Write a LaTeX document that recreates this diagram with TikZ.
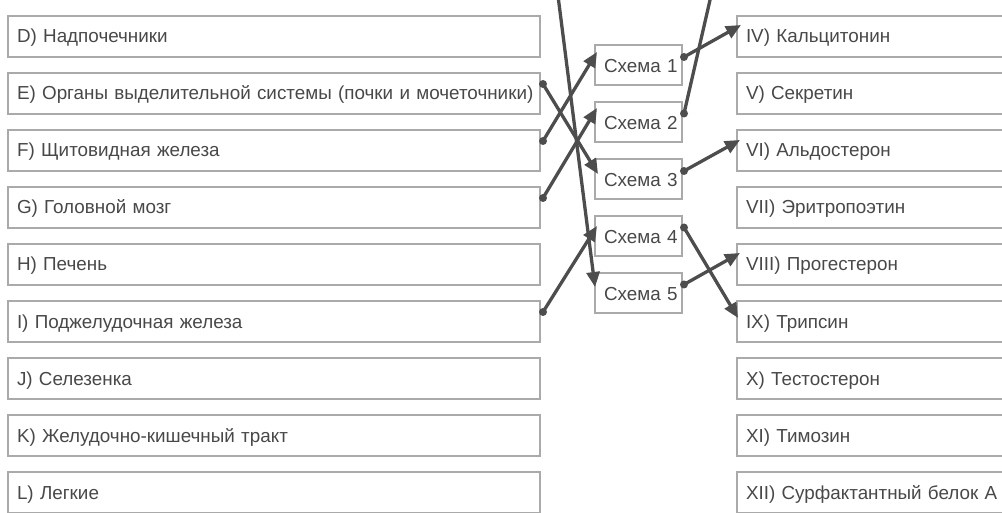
\documentclass[tikz,border=0pt]{standalone}
\usepackage{fontspec}
\setmainfont{Liberation Sans}
\usetikzlibrary{arrows.meta,calc}
\definecolor{txt}{HTML}{484848}
\definecolor{bord}{HTML}{AAAAAA}
\definecolor{conn}{HTML}{4D4D4D}
\newlength\refw
\begin{document}
\settowidth\refw{\fontsize{10pt}{12pt}\selectfont E) Органы выделительной системы (почки и мочеточники)}%
\pgfmathsetmacro\fsz{10*510/\refw}%
\begin{tikzpicture}[x=1pt,y=-1pt]
\tikzset{
  boxbase/.style={draw=bord, line width=2pt, rectangle, anchor=north west, inner xsep=9pt, inner ysep=0pt,
    align=left, text=txt, font=\fontsize{\fsz}{\fsz}\selectfont, text height=27pt, text depth=14pt},
  lbox/.style={boxbase, text width=514pt},
  rbox/.style={boxbase, text width=258pt},
  mbox/.style={boxbase, text width=69pt, text depth=13pt},
  arr/.style={draw=conn, line width=3.3pt, -{Triangle[length=15pt,width=13pt]}},
  ln/.style={draw=conn, line width=3.3pt},
  dot/.style={fill=conn}
}
\useasboundingbox (0,0) rectangle (1002,513);
\clip (0,0) rectangle (1002,513);
% left column
\node[lbox] (D) at (7,15)  {D) Надпочечники};
\node[lbox] (E) at (7,72)  {\mbox{E) Органы выделительной системы (почки и мочеточники)}};
\node[lbox] (F) at (7,129) {F) Щитовидная железа};
\node[lbox] (G) at (7,186) {G) Головной мозг};
\node[lbox] (H) at (7,243) {H) Печень};
\node[lbox] (I) at (7,300) {I) Поджелудочная железа};
\node[lbox] (J) at (7,357) {J) Селезенка};
\node[lbox] (K) at (7,414) {K) Желудочно-кишечный тракт};
\node[lbox] (L) at (7,471) {L) Легкие};
% middle column
\node[mbox] (S1) at (594,44.5)  {Схема~1};
\node[mbox] (S2) at (594,101.5) {Схема~2};
\node[mbox] (S3) at (594,158.5) {Схема~3};
\node[mbox] (S4) at (594,215.5) {Схема~4};
\node[mbox] (S5) at (594,272.5) {Схема~5};
% right column
\node[rbox] (R4)  at (736,15)  {IV) Кальцитонин};
\node[rbox] (R5)  at (736,72)  {V) Секретин};
\node[rbox] (R6)  at (736,129) {VI) Альдостерон};
\node[rbox] (R7)  at (736,186) {VII) Эритропоэтин};
\node[rbox] (R8)  at (736,243) {VIII) Прогестерон};
\node[rbox] (R9)  at (736,300) {IX) Трипсин};
\node[rbox] (R10) at (736,357) {X) Тестостерон};
\node[rbox] (R11) at (736,414) {XI) Тимозин};
\node[rbox] (R12) at (736,471) {XII) Сурфактантный белок А};
% off-picture ends
\coordinate (topA) at (556,-20);
\coordinate (topB) at (714.6,-20);
% start points
\coordinate (pE) at ($(E.north east)+(2,12)$);
\coordinate (pF) at ($(F.north east)+(2,12)$);
\coordinate (pG) at ($(G.north east)+(2,12)$);
\coordinate (pI) at ($(I.north east)+(2,12)$);
\coordinate (p1) at ($(S1.north east)+(1,12.5)$);
\coordinate (p2) at ($(S2.north east)+(1,12)$);
\coordinate (p3) at ($(S3.north east)+(1,12.5)$);
\coordinate (p4) at ($(S4.north east)+(1,12)$);
\coordinate (p5) at ($(S5.north east)+(1,12)$);
% connectors
\draw[arr] (pE) -- ($(S3.north west)+(4,15.5)$);
\draw[arr] (pF) -- ($(S1.north west)+(3,7.5)$);
\draw[arr] (pG) -- ($(S2.north west)+(3,6.5)$);
\draw[arr] (pI) -- ($(S4.north west)+(3,10.5)$);
\draw[arr] (topA) -- ($(S5.north west)+(1,14.5)$);
\draw[arr] (p1) -- ($(R4.north west)+(5,10)$);
\draw[ln]  (p2) -- (topB);
\draw[arr] (p3) -- ($(R6.north west)+(4,11)$);
\draw[arr] (p4) -- ($(R9.north west)+(2,18)$);
\draw[arr] (p5) -- ($(R8.north west)+(4,10)$);
\foreach \p in {pE,pF,pG,pI,p1,p2,p3,p4,p5} \fill[dot] (\p) circle (4);
\end{tikzpicture}
\end{document}
